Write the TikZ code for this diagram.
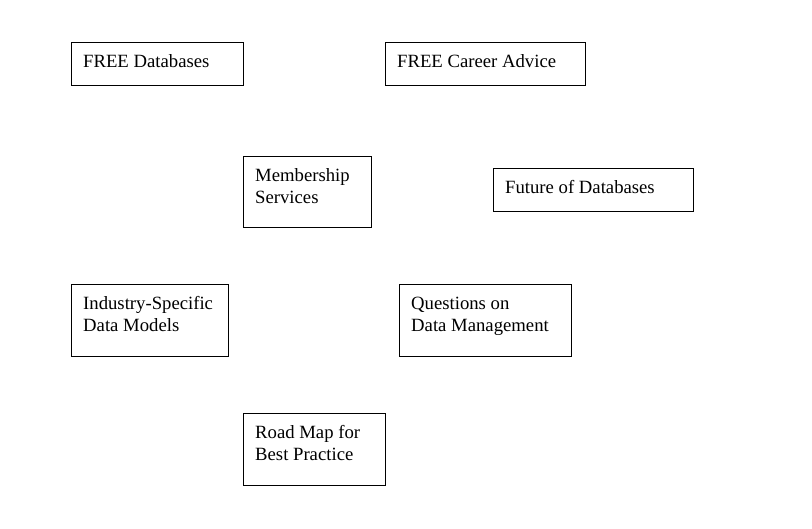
\documentclass[tikz,border=0pt]{standalone}
\usepackage{fontspec}
\setmainfont{Liberation Serif}
\begin{document}
\begin{tikzpicture}[x=1pt,y=-1pt,
  box/.style={draw=black, line width=1pt, anchor=north west, inner sep=0pt, outer sep=0pt},
  txt/.style={anchor=base west, inner sep=0pt, align=left, font=\fontsize{18.7}{22}\selectfont}]
\useasboundingbox (0,0) rectangle (812,529);
\node[box, minimum width=172pt, minimum height=43pt] (b1) at (71,43) {};
\node[box, minimum width=200pt, minimum height=43pt] (b2) at (385,43) {};
\node[box, minimum width=128pt, minimum height=71pt] (b3) at (243,157) {};
\node[box, minimum width=200pt, minimum height=43pt] (b4) at (493,169) {};
\node[box, minimum width=157pt, minimum height=72pt] (b5) at (71,285) {};
\node[box, minimum width=172pt, minimum height=72pt] (b6) at (399,285) {};
\node[box, minimum width=142pt, minimum height=71pt] (b7) at (243,414) {};
\node[txt] (t1) at ([shift={(12,24.5)}]b1.north west) {FREE Databases};
\node[txt] (t2) at ([shift={(12,24.5)}]b2.north west) {FREE Career Advice};
\node[txt] (t3) at ([shift={(12,46.5)}]b3.north west) {Membership\\Services};
\node[txt] (t4) at ([shift={(12,24.5)}]b4.north west) {Future of Databases};
\node[txt] (t5) at ([shift={(12,46.5)}]b5.north west) {Industry-Specific\\Data Models};
\node[txt] (t6) at ([shift={(12,46.5)}]b6.north west) {Questions on\\Data Management};
\node[txt] (t7) at ([shift={(12,46.5)}]b7.north west) {Road Map for\\Best Practice};
\end{tikzpicture}
\end{document}
